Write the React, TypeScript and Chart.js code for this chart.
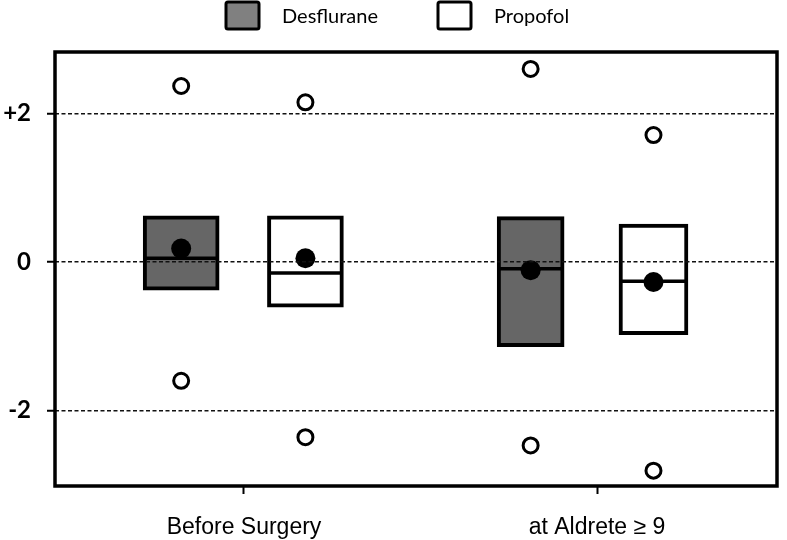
import { useEffect, useRef } from 'react';
import { Chart, registerables } from 'chart.js';

Chart.register(...registerables);

// ---- data ----
const categories = ['Before Surgery', 'at Aldrete ≥ 9'];
const seriesNames = ['Desflurane', 'Propofol'];

const desfluraneQ1 = [-0.38, -1.14];
const desfluraneQ3 = [0.62, 0.61];
const desfluraneMedian = [0.05, -0.09];
const desfluraneMean = [0.18, -0.11];
const desfluraneMax = [2.37, 2.6];
const desfluraneMin = [-1.6, -2.47];

const propofolQ1 = [-0.61, -0.98];
const propofolQ3 = [0.62, 0.51];
const propofolMedian = [-0.15, -0.26];
const propofolMean = [0.05, -0.27];
const propofolMax = [2.15, 1.71];
const propofolMin = [-2.36, -2.81];

const yTickValues = [-2, 0, 2];
const yTickLabels = ['-2', '0', '+2'];

// ---- layout / style ----
const Y_MIN = -3.017;
const Y_MAX = 2.828;
const X_MIN = -0.5354;
const X_MAX = 1.5099;
const boxOffsets = [
  [-0.178, -0.188],
  [0.174, 0.16],
];
const boxWidths = [
  [76, 67],
  [76, 69],
];
const boxFill = ['#666666', '#ffffff'];
const legendFill = ['#808080', '#ffffff'];
const legendX = [226, 438];

const stats = [
  { q1: desfluraneQ1, q3: desfluraneQ3, med: desfluraneMedian, mean: desfluraneMean, max: desfluraneMax, min: desfluraneMin },
  { q1: propofolQ1, q3: propofolQ3, med: propofolMedian, mean: propofolMean, max: propofolMax, min: propofolMin },
];

const framePlugin = {
  id: 'frame',
  afterDraw(chart: any) {
    const { ctx, chartArea } = chart;
    ctx.save();
    ctx.strokeStyle = '#000';
    ctx.lineWidth = 3.5;
    ctx.strokeRect(chartArea.left, chartArea.top, chartArea.right - chartArea.left, chartArea.bottom - chartArea.top);
    ctx.restore();
  },
};

const legendPlugin = {
  id: 'customLegend',
  afterDraw(chart: any) {
    const { ctx } = chart;
    ctx.save();
    seriesNames.forEach((name, i) => {
      const x = legendX[i];
      const y = 2;
      const w = 33;
      const h = 27;
      ctx.beginPath();
      if (ctx.roundRect) ctx.roundRect(x, y, w, h, 2);
      else ctx.rect(x, y, w, h);
      ctx.fillStyle = legendFill[i];
      ctx.fill();
      ctx.lineWidth = 3;
      ctx.strokeStyle = '#000';
      ctx.stroke();
      ctx.fillStyle = '#000';
      ctx.font = '20px Lato, "Open Sans", sans-serif';
      ctx.textBaseline = 'middle';
      ctx.textAlign = 'left';
      ctx.fillText(name, x + 56, y + h / 2 + 1);
    });
    ctx.restore();
  },
};

export default function App() {
  const canvasRef = useRef<HTMLCanvasElement | null>(null);

  useEffect(() => {
    const canvas = canvasRef.current;
    if (!canvas) return;

    const datasets: any[] = [];
    stats.forEach((s, si) => {
      categories.forEach((_, ci) => {
        const x = ci + boxOffsets[si][ci];
        datasets.push({
          type: 'bar',
          label: seriesNames[si],
          data: [{ x, y: [s.q1[ci], s.q3[ci]] }],
          backgroundColor: boxFill[si],
          borderColor: '#000',
          borderWidth: 4,
          borderSkipped: false,
          grouped: false,
          barThickness: boxWidths[si][ci],
          order: 5,
        });
      });
    });
    stats.forEach((s, si) => {
      datasets.push({
        type: 'scatter',
        label: seriesNames[si] + ' median',
        data: categories.map((_, ci) => ({ x: ci + boxOffsets[si][ci], y: s.med[ci] })),
        pointStyle: 'line',
        pointRadius: (ctx: any) => boxWidths[si][ctx.dataIndex] / 2 - 1,
        pointBorderWidth: 3.5,
        pointBorderColor: '#000',
        borderColor: '#000',
        order: 4,
      });
      datasets.push({
        type: 'scatter',
        label: seriesNames[si] + ' mean',
        data: categories.map((_, ci) => ({ x: ci + boxOffsets[si][ci], y: s.mean[ci] })),
        pointStyle: 'circle',
        pointRadius: 10,
        pointBorderWidth: 0,
        pointBackgroundColor: '#000',
        pointBorderColor: '#000',
        order: 3,
      });
      datasets.push({
        type: 'scatter',
        label: seriesNames[si] + ' extremes',
        data: [
          ...categories.map((_, ci) => ({ x: ci + boxOffsets[si][ci], y: s.max[ci] })),
          ...categories.map((_, ci) => ({ x: ci + boxOffsets[si][ci], y: s.min[ci] })),
        ],
        pointStyle: 'circle',
        pointRadius: 7.5,
        pointBorderWidth: 3,
        pointBackgroundColor: '#fff',
        pointBorderColor: '#000',
        order: 3,
      });
    });

    const chart = new Chart(canvas, {
      type: 'scatter',
      data: { datasets },
      options: {
        animation: false,
        responsive: false,
        devicePixelRatio: 1,
        layout: { autoPadding: false, padding: { top: 52, right: 10, left: 0, bottom: 0 } },
        plugins: {
          legend: { display: false },
          tooltip: { enabled: false },
        },
        scales: {
          x: {
            type: 'linear',
            offset: false,
            min: X_MIN,
            max: X_MAX,
            afterBuildTicks: (scale: any) => {
              scale.ticks = categories.map((_, i) => ({ value: i }));
            },
            afterFit: (scale: any) => {
              scale.height = 54;
              scale.paddingLeft = 0;
              scale.paddingRight = 0;
            },
            ticks: {
              autoSkip: false,
              maxRotation: 0,
              padding: 20,
              color: '#000',
              font: { family: '"Liberation Sans", Arial, sans-serif', size: 23 },
              callback: (v: any) => categories[v as number] ?? '',
            },
            grid: {
              offset: false,
              drawOnChartArea: false,
              drawTicks: true,
              tickLength: 8,
              tickWidth: 2,
              tickColor: '#000',
            },
            border: { display: false },
          },
          y: {
            type: 'linear',
            min: Y_MIN,
            max: Y_MAX,
            afterBuildTicks: (scale: any) => {
              scale.ticks = yTickValues.map((v) => ({ value: v }));
            },
            afterFit: (scale: any) => {
              scale.width = 55;
              scale.paddingTop = 0;
              scale.paddingBottom = 0;
            },
            ticks: {
              padding: 16,
              color: '#000',
              font: { family: 'Lato, "Open Sans", sans-serif', size: 24, weight: 'bold' },
              callback: (v: any) => {
                const i = yTickValues.indexOf(v as number);
                return i >= 0 ? yTickLabels[i] : '';
              },
            },
            grid: {
              z: 1,
              color: '#111',
              lineWidth: 1.5,
              drawTicks: true,
              tickLength: 8,
              tickWidth: 2,
              tickColor: '#000',
              tickBorderDash: [],
            },
            border: { display: false, dash: [4, 2.5] },
          },
        },
      } as any,
      plugins: [framePlugin, legendPlugin],
    });

    return () => chart.destroy();
  }, []);

  return (
    <div style={{ position: 'absolute', left: 0, top: 0, width: 787, height: 540, background: '#fff' }}>
      <canvas ref={canvasRef} width={787} height={540} style={{ display: 'block', width: 787, height: 540 }} />
    </div>
  );
}
